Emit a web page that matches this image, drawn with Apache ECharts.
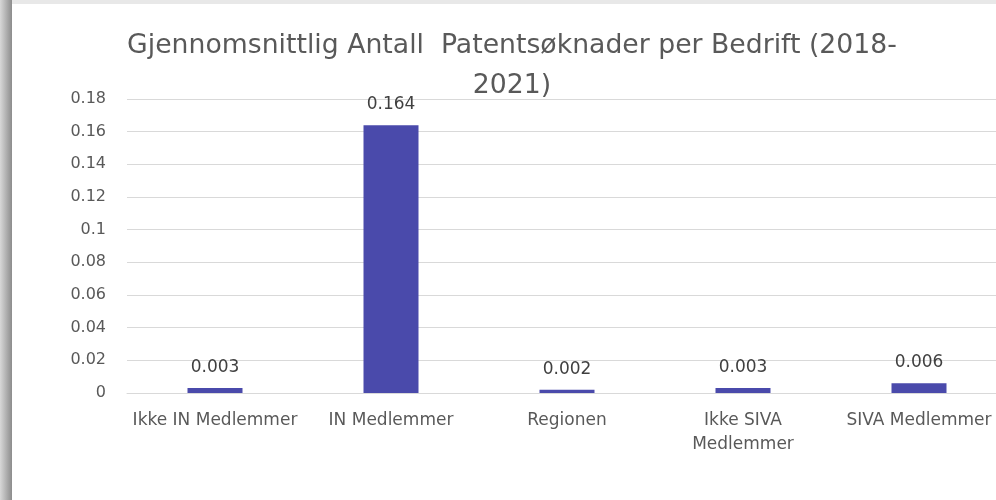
<html lang="en">
<head>
    <meta charset="UTF-8">
    <title>Patentsøknader per Bedrift</title>
    <script src="https://cdn.jsdelivr.net/npm/echarts@6/dist/echarts.min.js"></script>
    <style>
        body { margin: 0; background: #fff; }
        #mychart { width: 996px; height: 500px; }
    </style>
</head>
<body>
<div id="mychart"></div>
<script>
    // data
    var categories = ['Ikke IN Medlemmer', 'IN Medlemmer', 'Regionen', 'Ikke SIVA\nMedlemmer', 'SIVA Medlemmer'];
    var values = [0.003, 0.164, 0.002, 0.003, 0.006];
    var yTicks = [0, 0.02, 0.04, 0.06, 0.08, 0.1, 0.12, 0.14, 0.16, 0.18];

    var e = echarts.init(document.getElementById('mychart'));
    var op = {
        animation: false,
        title: {
            text: 'Gjennomsnittlig Antall  Patentsøknader per Bedrift (2018-\n2021)',
            left: 507,
            textAlign: 'center',
            top: 21,
            textStyle: {
                fontFamily: 'DejaVu Sans',
                fontWeight: 'normal',
                fontSize: 26.7,
                lineHeight: 40,
                color: '#595959'
            }
        },
        //frame edges of the original screenshot
        graphic: [
            {
                type: 'rect',
                shape: { x: 0, y: 0, width: 12, height: 500 },
                style: {
                    fill: {
                        type: 'linear', x: 0, y: 0, x2: 1, y2: 0,
                        colorStops: [{ offset: 0, color: '#d8d8d8' }, { offset: 1, color: '#8c8c8c' }]
                    }
                }
            },
            {
                type: 'rect',
                shape: { x: 12, y: 0, width: 984, height: 4 },
                style: { fill: '#e8e8e8' }
            }
        ],
        grid: {
            left: 127,
            width: 880,
            top: 99,
            bottom: 107,
            outerBoundsMode: 'none'
        },
        xAxis: {
            type: 'category',
            data: categories,
            axisTick: { show: false },
            axisLine: { lineStyle: { color: '#d9d9d9', width: 1 } },
            axisLabel: {
                interval: 0,
                color: '#595959',
                fontFamily: 'DejaVu Sans',
                fontSize: 17,
                margin: 16,
                lineHeight: 24
            }
        },
        yAxis: {
            type: 'value',
            min: yTicks[0],
            max: yTicks[yTicks.length - 1],
            interval: 0.02,
            axisLine: { show: false },
            axisTick: { show: false },
            splitLine: { lineStyle: { color: '#d9d9d9' } },
            axisLabel: {
                color: '#595959',
                fontFamily: 'DejaVu Sans',
                fontSize: 16,
                margin: 21,
                formatter: function (v) {
                    return String(parseFloat(v.toFixed(2)));
                }
            }
        },
        series: [{
            type: 'bar',
            data: values,
            barWidth: 55,
            itemStyle: { color: '#4a4aab' },
            label: {
                show: true,
                position: 'top',
                distance: 12,
                color: '#404040',
                fontFamily: 'DejaVu Sans',
                fontSize: 17,
                formatter: function (p) {
                    return p.value.toFixed(3);
                }
            }
        }]
    };
    e.setOption(op);
</script>
</body>
</html>
